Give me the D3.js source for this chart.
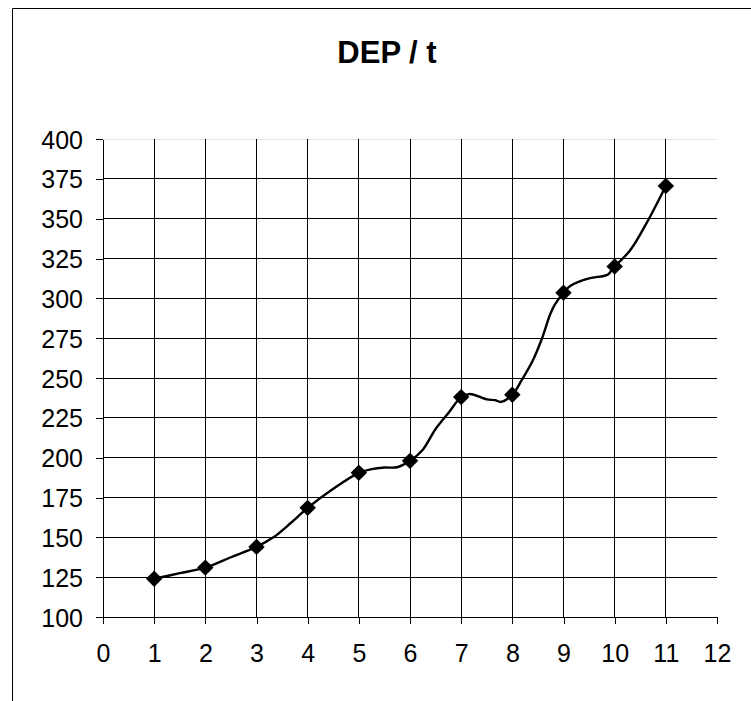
<!DOCTYPE html>
<html lang="en">
	<head>
		<meta charset="utf-8">
		<title>DEP / t</title>
		<script type="text/javascript" src="https://d3js.org/d3.v7.min.js"></script>
		<style type="text/css">
			html, body { margin:0; background:#fff; overflow:hidden; }
			svg { display:block; }
			svg text { font-family: "Liberation Sans", Arial, sans-serif; fill:#000; }
			.axis path, .axis line { stroke:#000; shape-rendering:crispEdges; }
			.grid line { stroke:#000; shape-rendering:crispEdges; }
		</style>
	</head>
	<body>
		<svg id="chart"></svg>
		<script type="text/javascript">
			// marker values (one per t)
			var tPoints=[1,2,3,4,5,6,7,8,9,10,11];
			var depPoints=[124,131,144,168.5,190.5,198,238,239.5,303.5,320,370.5];

			// the smoothed line runs through a finer series
			var tLine=[1,1.5,2,2.5,3,3.33,3.67,4,4.5,5,5.25,5.5,5.75,6,6.25,6.5,6.75,7,7.17,7.5,7.66,7.78,8,8.18,8.4,8.57,8.74,8.83,9,9.13,9.5,9.78,9.87,10,10.3,10.62,11];
			var depLine=[124,127.5,131,137.5,144,150,159,168.5,180.5,190.5,192.8,193.8,194,198,205,218,228,238,240,236.6,236.1,235,239.5,248.5,261,274,290,296,303.5,307.7,312.5,314,315,320,330,347,370.5];

			var xTicks=[0,1,2,3,4,5,6,7,8,9,10,11,12];
			var yTicks=[100,125,150,175,200,225,250,275,300,325,350,375,400];
			var title="DEP / t";

			var w=751, h=701;
			var margin={left:103,right:34,top:139,bottom:84};

			var svg=d3.select("#chart").attr("width",w).attr("height",h);

			// chart frame: only the top and left edges are inside the picture
			svg.append("path")
				.attr("d","M12.5,"+h+"V8.5H"+w)
				.attr("fill","none").attr("stroke","#000");

			var xScale=d3.scaleLinear().domain([0,12]).range([margin.left,w-margin.right]);
			var yScale=d3.scaleLinear().domain([100,400]).range([h-margin.bottom,margin.top]);

			svg.append("text")
				.attr("x",387).attr("y",63)
				.attr("text-anchor","middle")
				.attr("font-size","31px")
				.attr("font-weight","bold")
				.text(title);

			// grid
			var grid=svg.append("g").attr("class","grid");
			grid.selectAll("line.h")
				.data(yTicks.filter(d=>d>100))
				.enter().append("line")
				.attr("class","h")
				.attr("x1",xScale(0)).attr("x2",xScale(12))
				.attr("y1",d=>yScale(d)).attr("y2",d=>yScale(d))
				.style("stroke",d=>d==400?"#e4e4e4":"#000");
			grid.selectAll("line.v")
				.data(xTicks.filter(d=>d>0&&d<12))
				.enter().append("line")
				.attr("class","v")
				.attr("y1",yScale(100)).attr("y2",yScale(400))
				.attr("x1",d=>xScale(d)).attr("x2",d=>xScale(d));

			var xAxis=d3.axisBottom(xScale).tickValues(xTicks).tickSize(7).tickPadding(20).tickSizeOuter(0);
			var yAxis=d3.axisLeft(yScale).tickValues(yTicks).tickSize(7).tickPadding(13).tickSizeOuter(0);

			svg.append("g")
				.attr("class","axis")
				.attr("transform","translate(0,"+yScale(100)+")")
				.call(xAxis)
				.selectAll("text").attr("font-size","25px");

			svg.append("g")
				.attr("class","axis")
				.attr("transform","translate("+xScale(0)+",0)")
				.call(yAxis)
				.selectAll("text").attr("font-size","25px").attr("dy","0.36em");

			var lineData=tLine.map((t,i)=>[t,depLine[i]]);
			var line=d3.line()
				.x(d=>xScale(d[0]))
				.y(d=>yScale(d[1]))
				.curve(d3.curveCatmullRom.alpha(0.5));

			svg.append("path")
				.datum(lineData)
				.attr("d",line)
				.attr("fill","none")
				.attr("stroke","#000")
				.attr("stroke-width",2.4);

			svg.selectAll("path.marker")
				.data(tPoints)
				.enter().append("path")
				.attr("class","marker")
				.attr("d",d3.symbol().type(d3.symbolSquare).size(135))
				.attr("transform",(d,i)=>"translate("+xScale(d)+","+yScale(depPoints[i])+") rotate(45)")
				.attr("fill","#000");
		</script>
	</body>
</html>
